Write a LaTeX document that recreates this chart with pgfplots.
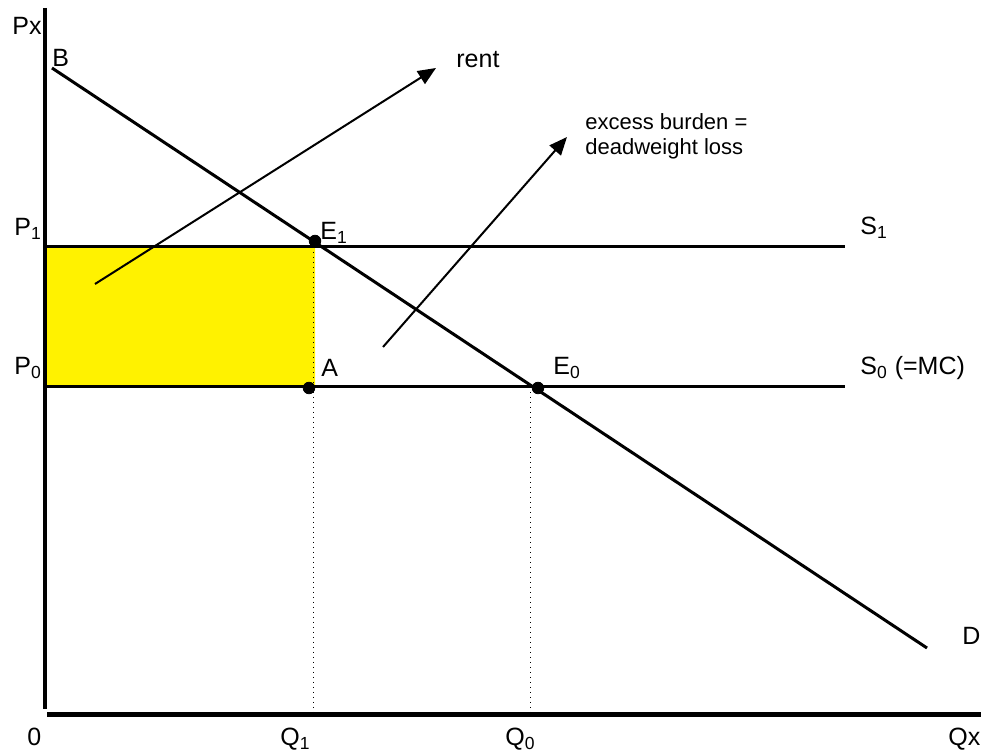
\documentclass[border=0pt]{standalone}
\usepackage{fontspec}
\setmainfont{Liberation Sans}
\usepackage{pgfplots}
\pgfplotsset{compat=1.18}
\usetikzlibrary{arrows.meta}
\begin{document}
\fontsize{12.5}{15}\selectfont
\begin{tikzpicture}
\begin{axis}[width=490.5pt, height=376.5pt, scale only axis,
  xmin=0, xmax=981, ymin=0, ymax=753, y dir=reverse, hide axis, clip=false]
% bounding corners
\addplot[draw=none] coordinates {(0,0) (981,753)};
\coordinate (bbA) at (axis cs:0,753);
\coordinate (bbB) at (axis cs:981,0);
% rent rectangle
\addplot[fill=yellow, draw=none] coordinates {(47,247) (315,247) (315,387) (47,387) (47,247)};
% dotted verticals
\addplot[black, dotted, line width=0.5pt] coordinates {(313,247) (313,714)};
\addplot[black, dotted, line width=0.5pt] coordinates {(530,387) (530,714)};
% supply lines
\addplot[black, line width=1.5pt] coordinates {(45,247) (845,247)};
\addplot[black, line width=1.5pt] coordinates {(45,387) (845,387)};
% demand
\addplot[black, line width=1.5pt] coordinates {(52,68) (927,648)};
% axes
\addplot[black, line width=2.2pt] coordinates {(45,8) (45,709)};
\addplot[black, line width=2.6pt] coordinates {(47,714.5) (981,714.5)};
% points
\addplot[black, only marks, mark=*, mark size=2.9pt] coordinates {(315,241) (309,388) (538,388)};
% arrows
\addplot[black, line width=1pt, -{Triangle[length=9pt, width=7.5pt]}] coordinates {(95,284) (436,68)};
\addplot[black, line width=1pt, -{Triangle[length=9pt, width=7.5pt]}] coordinates {(383,347) (567,137)};
% labels
\node[anchor=base west, inner sep=0pt] at (axis cs:12,35) {Px};
\node[anchor=base west, inner sep=0pt] at (axis cs:52,67) {B};
\node[anchor=base west, inner sep=0pt] at (axis cs:14,236) {P\textsubscript{1}};
\node[anchor=base west, inner sep=0pt] at (axis cs:14,375) {P\textsubscript{0}};
\node[anchor=base west, inner sep=0pt] at (axis cs:320,240) {E\textsubscript{1}};
\node[anchor=base west, inner sep=0pt] at (axis cs:321,377) {A};
\node[anchor=base west, inner sep=0pt] at (axis cs:553,375) {E\textsubscript{0}};
\node[anchor=base west, inner sep=0pt] at (axis cs:860,235) {S\textsubscript{1}};
\node[anchor=base west, inner sep=0pt] at (axis cs:860,375) {S\textsubscript{0} (=MC)};
\node[anchor=base west, inner sep=0pt] at (axis cs:962,645) {D};
\node[anchor=base west, inner sep=0pt] at (axis cs:456,68) {rent};
\node[anchor=base west, inner sep=0pt, font=\fontsize{11}{13.2}\selectfont] at (axis cs:585,130) {excess burden =};
\node[anchor=base west, inner sep=0pt, font=\fontsize{11}{13.2}\selectfont] at (axis cs:585,155) {deadweight loss};
\node[anchor=base west, inner sep=0pt] at (axis cs:27,746) {0};
\node[anchor=base west, inner sep=0pt] at (axis cs:280,746) {Q\textsubscript{1}};
\node[anchor=base west, inner sep=0pt] at (axis cs:505,746) {Q\textsubscript{0}};
\node[anchor=base west, inner sep=0pt] at (axis cs:948,746) {Qx};
\end{axis}
\pgfresetboundingbox
\path[use as bounding box] (bbA) rectangle (bbB);
\end{tikzpicture}
\end{document}
